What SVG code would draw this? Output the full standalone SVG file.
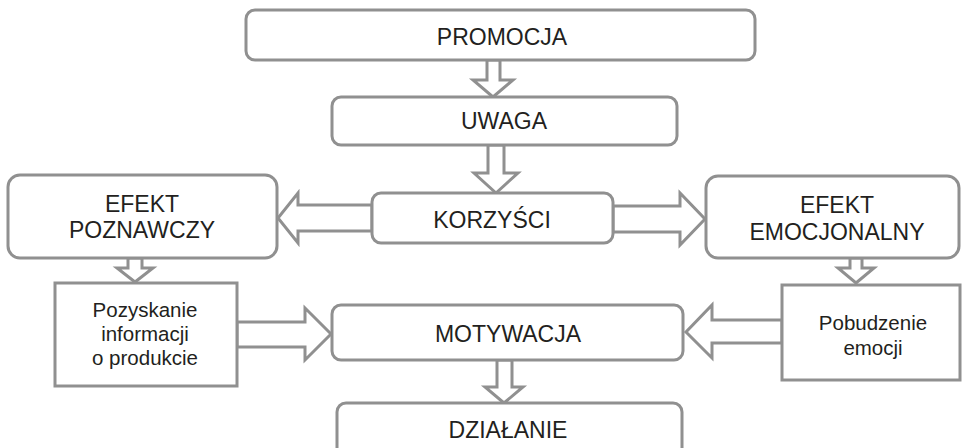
<svg xmlns="http://www.w3.org/2000/svg" width="963" height="448" viewBox="0 0 963 448">
<style>
.box{fill:#fff;stroke:#909090;stroke-width:3}
.arr{fill:#fff;stroke:#909090;stroke-width:3;stroke-linejoin:miter}
.t{font-family:"Liberation Sans",Arial,sans-serif;font-size:23px;fill:#231f20;text-anchor:middle}
.s{font-family:"Liberation Sans",Arial,sans-serif;font-size:20.5px;fill:#231f20;text-anchor:middle}
</style>
<rect width="963" height="448" fill="#fff"/>
<g id="connectors">
<polygon class="arr" points="487,60 500,60 500,80 513,80 493,97 473,80 487,80"/>
<polygon class="arr" points="488,145 504,145 504,173 518,173 496,193 474,173 488,173"/>
<polygon class="arr" points="372,205 298,205 298,193 278,218 298,243 298,231 372,231"/>
<polygon class="arr" points="613,206 680,206 680,193 705,219 680,245 680,232 613,232"/>
<polygon class="arr" points="128,258 142,258 142,268 153,268 135,282 117,268 128,268"/>
<polygon class="arr" points="850,258 862,258 862,268 874,268 856,283 838,268 850,268"/>
<polygon class="arr" points="237,322 305,322 305,308 331,334 305,360 305,347 237,347"/>
<polygon class="arr" points="782,320 712,320 712,305 686,332 712,358 712,343 782,343"/>
<polygon class="arr" points="497,360 512,360 512,387 523,387 504,403 485,387 497,387"/>
</g>
<g id="promocja"><rect class="box" x="246" y="10" width="509" height="50" rx="9"/><text class="t" x="502" y="45">PROMOCJA</text></g>
<g id="uwaga"><rect class="box" x="332" y="97" width="345" height="48" rx="9"/><text class="t" x="504" y="129">UWAGA</text></g>
<g id="efekt-poznawczy"><rect class="box" x="8" y="175" width="269" height="83" rx="12"/><text class="t" x="142" y="212">EFEKT</text><text class="t" x="142" y="238">POZNAWCZY</text></g>
<g id="korzysci"><rect class="box" x="372" y="193" width="241" height="50" rx="9"/><text class="t" x="492" y="228">KORZYŚCI</text></g>
<g id="efekt-emocjonalny"><rect class="box" x="706" y="176" width="253" height="82" rx="12"/><text class="t" x="837" y="213">EFEKT</text><text class="t" x="837" y="240">EMOCJONALNY</text></g>
<g id="pozyskanie"><rect class="box" x="55" y="283" width="182" height="103"/><text class="s" x="145" y="317">Pozyskanie</text><text class="s" x="145" y="341">informacji</text><text class="s" x="145" y="365">o produkcie</text></g>
<g id="pobudzenie"><rect class="box" x="782" y="285" width="178" height="95"/><text class="s" x="873" y="330">Pobudzenie</text><text class="s" x="873" y="355">emocji</text></g>
<g id="motywacja"><rect class="box" x="332" y="305" width="351" height="55" rx="9"/><text class="t" x="508" y="342">MOTYWACJA</text></g>
<g id="dzialanie"><rect class="box" x="337" y="403" width="345" height="60" rx="9"/><text class="t" x="508" y="438">DZIAŁANIE</text></g>
</svg>
